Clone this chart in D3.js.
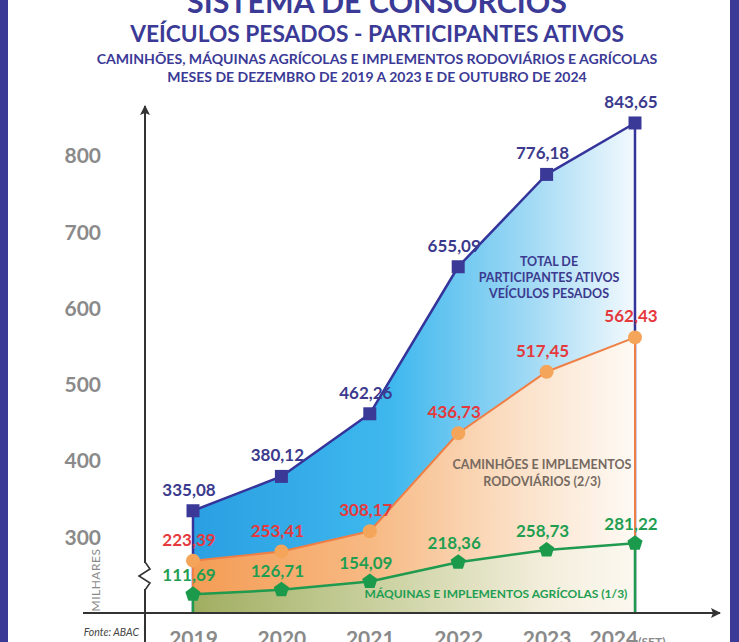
<!DOCTYPE html>
<html>
<head>
<meta charset="utf-8">
<script src="https://cdn.jsdelivr.net/npm/d3@7"></script>
<style>
  html, body { margin: 0; padding: 0; background: #ffffff; }
  svg { display: block; }
  text { font-family: Lato, "Open Sans", sans-serif; }
</style>
</head>
<body>
<svg id="chart" width="739" height="642"></svg>
<script>
// ---------- DATA ----------
const years = ["2019", "2020", "2021", "2022", "2023", "2024"];
const yearSuffix = ["", "", "", "", "", "(SET)"];
const totalValues = [335.08, 380.12, 462.26, 655.09, 776.18, 843.65];
const caminhoesValues = [223.39, 253.41, 308.17, 436.73, 517.45, 562.43];
const maquinasValues = [111.69, 126.71, 154.09, 218.36, 258.73, 281.22];
const yTickValues = [300, 400, 500, 600, 700, 800];
const titleLines = [
  "SISTEMA DE CONSÓRCIOS",
  "VEÍCULOS PESADOS - PARTICIPANTES ATIVOS",
  "CAMINHÕES, MÁQUINAS AGRÍCOLAS E IMPLEMENTOS RODOVIÁRIOS E AGRÍCOLAS",
  "MESES DE DEZEMBRO DE 2019 A 2023 E DE OUTUBRO DE 2024"
];
const totalNote = ["TOTAL DE", "PARTICIPANTES ATIVOS", "VEÍCULOS PESADOS"];
const caminhoesNote = ["CAMINHÕES E IMPLEMENTOS", "RODOVIÁRIOS (2/3)"];
const maquinasNote = ["MÁQUINAS E IMPLEMENTOS AGRÍCOLAS (1/3)"];
const unitLabel = "MILHARES";
const sourceLabel = "Fonte: ABAC";
const baseValue = 50; // value sitting on the (broken) x axis

// ---------- SETUP ----------
const svg = d3.select("#chart");
const W = 739, H = 642;
const navy = "#3b3a96";
const axisColor = "#333333";

const locale = d3.formatLocale({decimal: ",", thousands: ".", grouping: [3], currency: ["R$", ""]});
const fmt = locale.format(".2f");

// broken (polylinear) y scale: compressed below 300
const y = d3.scaleLinear().domain([baseValue, 300, 900]).range([613, 537.5, 80]);
const x = d3.scalePoint().domain(years).range([193, 635]);
const axisX = 145;
const axisY = y(baseValue);

// ---------- DEFS ----------
const defs = svg.append("defs");
function grad(id, stops) {
  const g = defs.append("linearGradient").attr("id", id)
    .attr("gradientUnits", "userSpaceOnUse")
    .attr("x1", x(years[0])).attr("x2", x(years[years.length - 1]))
    .attr("y1", 0).attr("y2", 0);
  stops.forEach(s => g.append("stop").attr("offset", s[0]).attr("stop-color", s[1]));
}
grad("gBlue", [[0, "#2a9fe2"], [0.45, "#3fb8ee"], [0.75, "#9dd8f4"], [1, "#f3f9fd"]]);
grad("gOrange", [[0, "#f49c55"], [0.4, "#f7b983"], [0.75, "#fbe2ca"], [1, "#fefaf5"]]);
grad("gGreen", [[0, "#a0ae60"], [0.45, "#cdd3a4"], [0.8, "#f3eedc"], [1, "#fcf8f0"]]);

defs.append("marker").attr("id", "arrow").attr("viewBox", "0 0 10 10")
  .attr("refX", 9).attr("refY", 5).attr("markerWidth", 12).attr("markerHeight", 10)
  .attr("markerUnits", "userSpaceOnUse").attr("orient", "auto")
  .append("path").attr("d", "M0,0 L10,5 L0,10 L2,5 Z").attr("fill", axisColor);

// ---------- FRAME ----------
svg.append("rect").attr("x", 0).attr("y", 0).attr("width", 8).attr("height", H).attr("fill", navy);
svg.append("rect").attr("x", 730).attr("y", 0).attr("width", 9).attr("height", H).attr("fill", navy);

// ---------- TITLES ----------
const titleSpecs = [
  {size: 34, y: 13, w: 380},
  {size: 25, y: 42, w: 494},
  {size: 15, y: 64, w: 561},
  {size: 15, y: 82, w: 420}
];
titleLines.forEach((t, i) => {
  const s = titleSpecs[i];
  const node = svg.append("text")
    .attr("x", 377).attr("y", s.y)
    .attr("text-anchor", "middle")
    .attr("font-weight", 700)
    .attr("font-size", s.size)
    .attr("fill", navy)
    .text(t);
  const len = node.node().getComputedTextLength();
  node.attr("font-size", s.size * s.w / len);
});

// ---------- SERIES ----------
const series = [
  {values: totalValues, fill: "url(#gBlue)", stroke: "#35349a", width: 2.5},
  {values: caminhoesValues, fill: "url(#gOrange)", stroke: "#ef7f45", width: 2},
  {values: maquinasValues, fill: "url(#gGreen)", stroke: "#1f9a4e", width: 2.5}
];

const area = d3.area()
  .x((d, i) => x(years[i]))
  .y0(axisY)
  .y1(d => y(d));

series.forEach(s => {
  svg.append("path").datum(s.values).attr("d", area).attr("fill", s.fill);
  const pts = [[x(years[0]), axisY]]
    .concat(s.values.map((v, i) => [x(years[i]), y(v)]))
    .concat([[x(years[years.length - 1]), axisY]]);
  svg.append("path").attr("d", d3.line()(pts))
    .attr("fill", "none").attr("stroke", s.stroke)
    .attr("stroke-width", s.width).attr("stroke-linejoin", "round");
});

// ---------- AXES ----------
svg.append("line").attr("x1", axisX).attr("x2", axisX)
  .attr("y1", H).attr("y2", 106)
  .attr("stroke", axisColor).attr("stroke-width", 2).attr("marker-end", "url(#arrow)");
svg.append("line").attr("x1", 83).attr("x2", 720)
  .attr("y1", axisY).attr("y2", axisY)
  .attr("stroke", axisColor).attr("stroke-width", 2).attr("marker-end", "url(#arrow)");

// break symbol on y axis
const bk = svg.append("g");
bk.append("rect").attr("x", axisX - 3).attr("y", 563).attr("width", 6).attr("height", 26).attr("fill", "#ffffff");
bk.append("path")
  .attr("d", d3.line()([[axisX, 562], [axisX + 5, 569], [axisX - 6, 576], [axisX + 5, 583], [axisX, 590]]))
  .attr("fill", "none").attr("stroke", axisColor).attr("stroke-width", 1.6);

// y tick labels
const yAxis = d3.axisLeft(y).tickValues(yTickValues).tickSize(0).tickPadding(44).tickFormat(d3.format("d"));
const gy = svg.append("g").attr("transform", `translate(${axisX},0)`).call(yAxis);
gy.select(".domain").remove();
gy.selectAll("text")
  .attr("font-family", "Lato, sans-serif")
  .attr("font-size", 21).attr("font-weight", 700).attr("fill", "#8a8a8a");

// x tick labels
const xAxis = d3.axisBottom(x).tickSize(0).tickPadding(0).tickFormat(d => d);
const gx = svg.append("g").attr("transform", `translate(0,${axisY})`).call(xAxis);
gx.select(".domain").remove();
gx.selectAll("text").remove();
gx.selectAll(".tick").each(function(d, i) {
  const t = d3.select(this).append("text")
    .attr("y", 33)
    .attr("text-anchor", "middle")
    .attr("font-family", "Lato, sans-serif")
    .attr("font-weight", 700).attr("fill", "#8a8a8a");
  t.append("tspan").attr("font-size", 21).text(years[i]);
  if (yearSuffix[i]) {
    t.append("tspan").attr("font-size", 12).text(yearSuffix[i]);
    t.attr("dx", -8);
  }
});

// ---------- MARKERS ----------
svg.selectAll(".sq").data(totalValues).enter().append("rect")
  .attr("x", (d, i) => x(years[i]) - 6.5).attr("y", d => y(d) - 6.5)
  .attr("width", 13).attr("height", 13).attr("fill", "#3a3998");

svg.selectAll(".ci").data(caminhoesValues).enter().append("circle")
  .attr("cx", (d, i) => x(years[i])).attr("cy", d => y(d))
  .attr("r", 7).attr("fill", "#f5a55a");

function pentagonPath(cx, cy, r) {
  const pts = d3.range(5).map(k => {
    const a = -Math.PI / 2 + k * 2 * Math.PI / 5;
    return [cx + r * Math.cos(a), cy + r * Math.sin(a)];
  });
  return d3.line()(pts) + "Z";
}
svg.selectAll(".pe").data(maquinasValues).enter().append("path")
  .attr("d", (d, i) => pentagonPath(x(years[i]), y(d), 8))
  .attr("fill", "#1c9a4c");

// ---------- VALUE LABELS ----------
function valueLabels(values, color, dy) {
  svg.selectAll(null).data(values).enter().append("text")
    .attr("x", (d, i) => x(years[i]) - 4)
    .attr("y", d => y(d) + dy)
    .attr("text-anchor", "middle")
    .attr("font-size", 17).attr("font-weight", 700)
    .attr("fill", color)
    .text(d => fmt(d));
}
valueLabels(totalValues, "#3b3a8c", -15);
valueLabels(caminhoesValues, "#e5393d", -15);
valueLabels(maquinasValues, "#1f9e52", -13);

// ---------- NOTES ----------
function note(lines, cx, cy, size, color, lh) {
  const t = svg.append("text").attr("text-anchor", "middle")
    .attr("font-size", size).attr("font-weight", 700).attr("fill", color);
  lines.forEach((l, i) => t.append("tspan").attr("x", cx).attr("y", cy + i * lh).text(l));
}
note(totalNote, 549, 266, 12.5, "#3b3a8f", 16);
note(caminhoesNote, 542, 469, 12.5, "#76695f", 17);
note(maquinasNote, 496, 598, 12, "#1f9e52", 16);

// unit label and source
svg.append("text").attr("transform", "translate(100,580) rotate(-90)")
  .attr("text-anchor", "middle").attr("font-size", 12).attr("fill", "#8a8a8a")
  .attr("letter-spacing", 0.5).text(unitLabel);
svg.append("text").attr("x", 139).attr("y", 636).attr("text-anchor", "end")
  .attr("font-size", 10.5).attr("font-style", "italic").attr("fill", "#444").text(sourceLabel);
</script>
</body>
</html>
